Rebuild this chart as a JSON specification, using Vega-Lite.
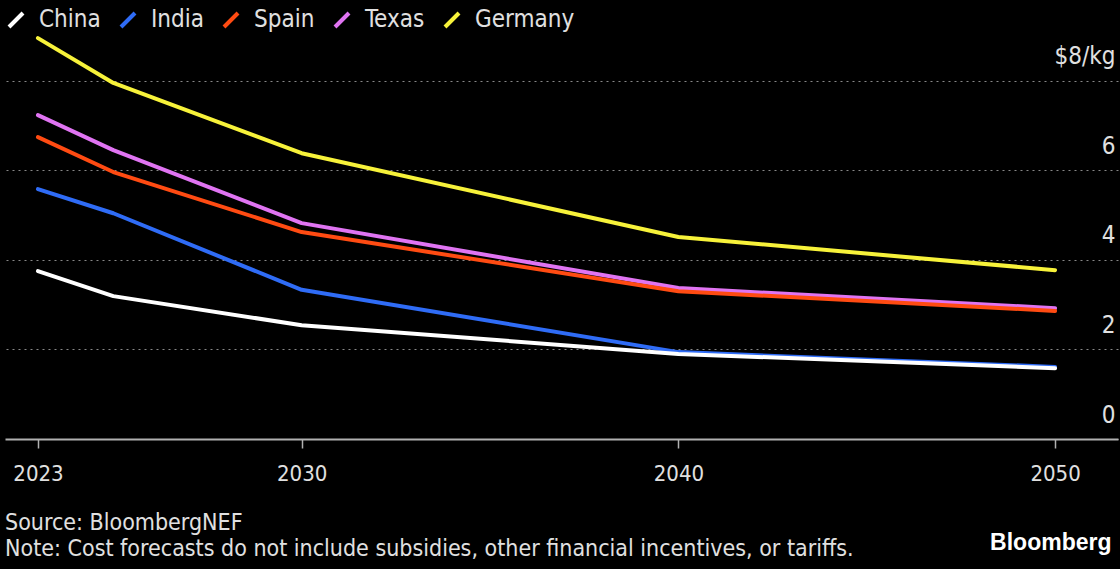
{
  "$schema": "https://vega.github.io/schema/vega-lite/v6.json",
  "width": 1113,
  "height": 430,
  "autosize": "none",
  "padding": {"left": 5, "top": 9, "right": 2, "bottom": 130},
  "background": "#000000",
  "config": {
    "font": "DejaVu Sans Condensed",
    "view": {"stroke": null},
    "title": {"color": "#e0e0e0", "font": "DejaVu Sans Condensed"}
  },
  "title": {
    "text": ["Source: BloombergNEF", "Note: Cost forecasts do not include subsidies, other financial incentives, or tariffs."],
    "orient": "bottom",
    "anchor": "start",
    "frame": "group",
    "offset": -42,
    "fontSize": 23,
    "fontWeight": "normal",
    "lineHeight": 26,
    "color": "#e0e0e0"
  },
  "data": {
    "values": [
      {"series": "Germany", "year": 2023, "value": 8.95},
      {"series": "Germany", "year": 2025, "value": 7.95},
      {"series": "Germany", "year": 2030, "value": 6.38},
      {"series": "Germany", "year": 2040, "value": 4.51},
      {"series": "Germany", "year": 2050, "value": 3.77},
      {"series": "Texas", "year": 2023, "value": 7.23},
      {"series": "Texas", "year": 2025, "value": 6.45},
      {"series": "Texas", "year": 2030, "value": 4.82},
      {"series": "Texas", "year": 2040, "value": 3.37},
      {"series": "Texas", "year": 2050, "value": 2.92},
      {"series": "Spain", "year": 2023, "value": 6.74},
      {"series": "Spain", "year": 2025, "value": 5.96},
      {"series": "Spain", "year": 2030, "value": 4.62},
      {"series": "Spain", "year": 2040, "value": 3.30},
      {"series": "Spain", "year": 2050, "value": 2.86},
      {"series": "India", "year": 2023, "value": 5.58},
      {"series": "India", "year": 2025, "value": 5.04},
      {"series": "India", "year": 2030, "value": 3.33},
      {"series": "India", "year": 2040, "value": 1.94},
      {"series": "India", "year": 2050, "value": 1.61},
      {"series": "China", "year": 2023, "value": 3.75},
      {"series": "China", "year": 2025, "value": 3.19},
      {"series": "China", "year": 2030, "value": 2.54},
      {"series": "China", "year": 2040, "value": 1.90},
      {"series": "China", "year": 2050, "value": 1.58}
    ]
  },
  "mark": {"type": "line", "strokeWidth": 4, "strokeCap": "round", "strokeJoin": "round"},
  "encoding": {
    "x": {
      "field": "year",
      "type": "quantitative",
      "scale": {"domain": [2022.125, 2051.67], "nice": false, "zero": false},
      "axis": {
        "values": [2023, 2030, 2040, 2050],
        "format": "d",
        "grid": false,
        "domainColor": "#b0b0b0",
        "domainWidth": 2,
        "tickColor": "#b0b0b0",
        "tickWidth": 1.5,
        "tickSize": 9,
        "labelPadding": 15,
        "labelFontSize": 22,
        "labelColor": "#e0e0e0",
        "labelFont": "DejaVu Sans Condensed",
        "title": "Bloomberg",
        "titleAnchor": "end",
        "titleAlign": "right",
        "titleX": 1106,
        "titlePadding": 47,
        "titleFont": "Liberation Sans",
        "titleFontSize": 23,
        "titleFontWeight": "bold",
        "titleColor": "#ffffff"
      }
    },
    "y": {
      "field": "value",
      "type": "quantitative",
      "scale": {"domain": [0, 9.6], "nice": false},
      "axis": {
        "orient": "right",
        "values": [0, 2, 4, 6, 8],
        "labelExpr": "datum.value == 8 ? '$8/kg' : datum.label",
        "grid": true,
        "gridColor": "#888888",
        "gridDash": [2, 4],
        "gridWidth": 1,
        "domain": false,
        "ticks": false,
        "labelAlign": "right",
        "labelBaseline": "alphabetic",
        "labelPadding": -3,
        "labelOffset": -17,
        "labelFontSize": 24,
        "labelColor": "#e0e0e0",
        "labelFont": "DejaVu Sans Condensed",
        "title": null
      }
    },
    "color": {
      "field": "series",
      "type": "nominal",
      "scale": {
        "domain": ["China", "India", "Spain", "Texas", "Germany"],
        "range": ["#ffffff", "#2f6cf6", "#ff4b12", "#e074f2", "#f7f23a"]
      },
      "legend": {
        "orient": "none",
        "legendX": -1,
        "legendY": -1,
        "direction": "horizontal",
        "title": null,
        "symbolType": "M-1,1L1,-1",
        "symbolSize": 196,
        "symbolStrokeWidth": 4,
        "labelFontSize": 24,
        "labelColor": "#e0e0e0",
        "labelFont": "DejaVu Sans Condensed",
        "labelOffset": 11,
        "columnPadding": 12,
        "symbolOffset": 0
      }
    }
  }
}
